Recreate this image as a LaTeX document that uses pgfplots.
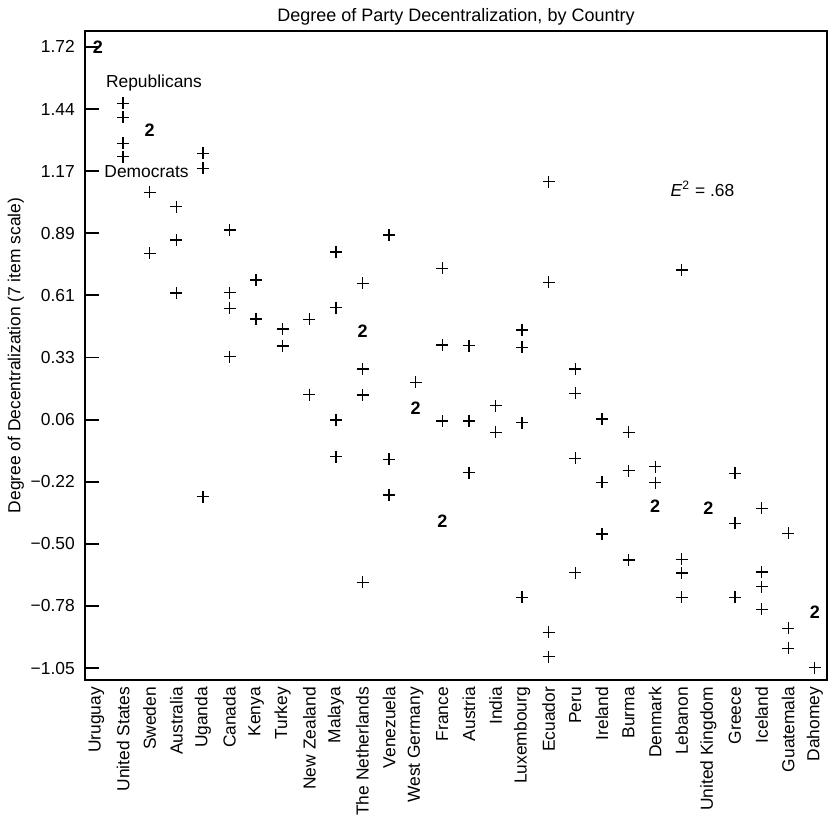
\documentclass[border=0pt]{standalone}
\usepackage{fontspec}
\setmainfont{Liberation Sans}
\usepackage{pgfplots}
\pgfplotsset{compat=1.18}
\newcommand{\lblfont}{\fontsize{8.7bp}{10bp}\selectfont}
\begin{document}
\begin{tikzpicture}
\begin{axis}[
  at={(0,0)}, anchor=south west,
  scale only axis, width=371bp, height=324.5bp,
  xmin=-0.432, xmax=27.46, ymin=-1.103, ymax=1.791,
  axis line style={line width=1bp},
  xtick={0,1,2,3,4,5,6,7,8,9,10,11,12,13,14,15,16,17,18,19,20,21,22,23,24,25,26,27},
  xticklabels={Uruguay,United States,Sweden,Australia,Uganda,Canada,Kenya,Turkey,New Zealand,Malaya,The Netherlands,Venezuela,West Germany,France,Austria,India,Luxembourg,Ecuador,Peru,Ireland,Burma,Denmark,Lebanon,United Kingdom,Greece,Iceland,Guatemala,Dahomey},
  xticklabel style={rotate=90, anchor=east, font=\lblfont},
  x tick style={draw=none},
  ytick={-1.05,-0.773,-0.496,-0.219,0.058,0.335,0.612,0.889,1.166,1.443,1.72},
  yticklabels={−1.05,−0.78,−0.50,−0.22,0.06,0.33,0.61,0.89,1.17,1.44,1.72},
  ytick pos=left, tick align=inside, major tick length=7bp,
  y tick style={line width=0.9bp, black},
  yticklabel style={font=\lblfont, xshift=-1.6bp},
  ylabel={Degree of Decentralization (7 item scale)},
  ylabel style={at={(axis description cs:-0.093,0.5)}, anchor=center, font=\lblfont},
  clip=false,
]
\addplot[only marks, mark=+, mark size=3bp, mark options={line width=0.65bp, black}] coordinates {
 (1,1.469) (1,1.406) (1,1.290) (1,1.231)
 (2,1.072) (2,0.800)
 (3,1.008) (3,0.859) (3,0.623)
 (4,1.246) (4,1.179) (4,-0.286)
 (5,0.904) (5,0.624) (5,0.554) (5,0.339)
 (6,0.681) (6,0.507)
 (7,0.462) (7,0.386)
 (8,0.505) (8,0.170)
 (9,0.806) (9,0.557) (9,0.056) (9,-0.107)
 (10,0.666) (10,0.284) (10,0.168) (10,-0.668)
 (11,0.881) (11,-0.119) (11,-0.278)
 (12,0.224)
 (13,0.733) (13,0.391) (13,0.052)
 (14,0.388) (14,0.052) (14,-0.179)
 (15,0.120) (15,0.001)
 (16,0.458) (16,0.380) (16,0.044) (16,-0.735)
 (17,1.119) (17,0.670) (17,-0.891) (17,-0.999)
 (18,0.284) (18,0.175) (18,-0.115) (18,-0.625)
 (19,0.061) (19,-0.222) (19,-0.452)
 (20,0.001) (20,-0.170) (20,-0.568)
 (21,-0.152) (21,-0.223)
 (22,0.725) (22,-0.565) (22,-0.626) (22,-0.735)
 (24,-0.181) (24,-0.404) (24,-0.735)
 (25,-0.338) (25,-0.622) (25,-0.687) (25,-0.788)
 (26,-0.449) (26,-0.873) (26,-0.962)
 (27,-1.048)
};
\addplot[only marks, mark=text, text mark={\fontsize{9bp}{10bp}\selectfont\bfseries 2}] coordinates {
 (0.05,1.72) (2,1.35) (10,0.453) (12,0.108) (13,-0.394) (21,-0.330) (23,-0.338) (27,-0.799)
};
\node[anchor=base, font=\lblfont] at (axis cs:2.16,1.537) {Republicans};
\node[anchor=base, font=\lblfont] at (axis cs:1.88,1.136) {Democrats};
\node[anchor=base, font=\lblfont] at (axis cs:22.78,1.051) {\textit{E}\textsuperscript{2} = .68};
\node[anchor=base, font=\fontsize{9bp}{10bp}\selectfont, yshift=4.5bp] at (axis description cs:0.5,1) {Degree of Party Decentralization, by Country};
\end{axis}
\pgfresetboundingbox
\path (-42.5bp,-69.5bp) rectangle (372bp,340bp);
\end{tikzpicture}
\end{document}
